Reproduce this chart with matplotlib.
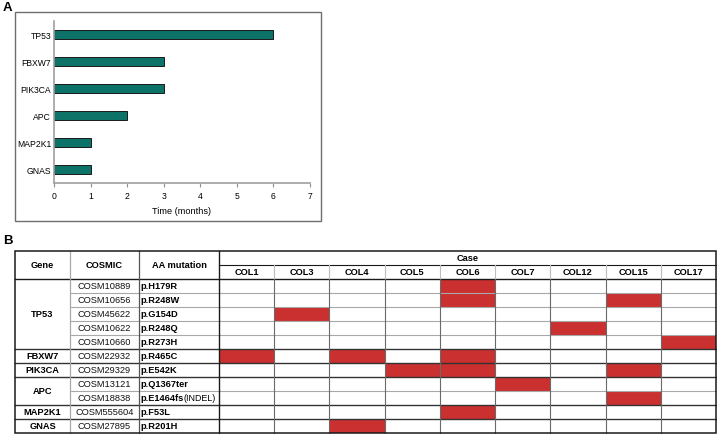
import matplotlib
matplotlib.use("Agg")
import matplotlib.pyplot as plt
from matplotlib.patches import Rectangle

plt.rcParams['font.family'] = ['Liberation Sans', 'DejaVu Sans']

# ---------------- data ----------------
genes_bar = ["TP53", "FBXW7", "PIK3CA", "APC", "MAP2K1", "GNAS"]
bar_values = [6, 3, 3, 2, 1, 1]
x_ticks = [0, 1, 2, 3, 4, 5, 6, 7]

cases = ["COL1", "COL3", "COL4", "COL5", "COL6", "COL7", "COL12", "COL15", "COL17"]
row_genes = ["TP53", "TP53", "TP53", "TP53", "TP53", "FBXW7", "PIK3CA", "APC", "APC", "MAP2K1", "GNAS"]
cosmic_ids = ["COSM10889", "COSM10656", "COSM45622", "COSM10622", "COSM10660",
              "COSM22932", "COSM29329", "COSM13121", "COSM18838", "COSM555604", "COSM27895"]
aa_mutations = ["p.H179R", "p.R248W", "p.G154D", "p.R248Q", "p.R273H",
                "p.R465C", "p.E542K", "p.Q1367ter", "p.E1464fs", "p.F53L", "p.R201H"]
aa_suffix = ["", "", "", "", "", "", "", "", "(INDEL)", "", ""]
# mutation presence per row (1 = detected) in case order
mutation_matrix = [
    [0, 0, 0, 0, 1, 0, 0, 0, 0],
    [0, 0, 0, 0, 1, 0, 0, 1, 0],
    [0, 1, 0, 0, 0, 0, 0, 0, 0],
    [0, 0, 0, 0, 0, 0, 1, 0, 0],
    [0, 0, 0, 0, 0, 0, 0, 0, 1],
    [1, 0, 1, 0, 1, 0, 0, 0, 0],
    [0, 0, 0, 1, 1, 0, 0, 1, 0],
    [0, 0, 0, 0, 0, 1, 0, 0, 0],
    [0, 0, 0, 0, 0, 0, 0, 1, 0],
    [0, 0, 0, 0, 1, 0, 0, 0, 0],
    [0, 0, 1, 0, 0, 0, 0, 0, 0],
]

# ---------------- figure ----------------
W, H = 717, 435
fig = plt.figure(figsize=(W / 100, H / 100), dpi=100)

ov = fig.add_axes([0, 0, 1, 1])
ov.set_xlim(0, W)
ov.set_ylim(H, 0)
ov.axis("off")

# panel A frame
ov.add_patch(Rectangle((15, 13), 306, 209, fill=False, edgecolor="#6e6e6e", lw=1.0))
ov.text(3, 8, "A", fontsize=9.5, fontweight="bold", va="center", ha="left")
ov.text(3, 241, "B", fontsize=9.5, fontweight="bold", va="center", ha="left")

# ---------------- bar chart ----------------
axL, axR, axT, axB = 54, 310, 22, 184
ax = fig.add_axes([axL / W, 1 - axB / H, (axR - axL) / W, (axB - axT) / H])
ypos = list(range(len(genes_bar)))[::-1]
ax.barh(ypos, bar_values, height=0.37, color="#0d7267", edgecolor="#1a1a1a", lw=0.7)
ax.set_xlim(0, 7)
ax.set_ylim(-0.5, len(genes_bar) - 0.5)
ax.set_xticks(x_ticks)
ax.set_xticklabels([str(t) for t in x_ticks], fontsize=6.2)
ax.set_yticks(ypos)
ax.set_yticklabels(genes_bar, fontsize=6.2)
ax.tick_params(axis="y", length=0, pad=2)
ax.tick_params(axis="x", length=3, width=0.8, color="#909090", pad=3)
for s in ["top", "right"]:
    ax.spines[s].set_visible(False)
for s in ["left", "bottom"]:
    ax.spines[s].set_color("#a0a0a0")
    ax.spines[s].set_linewidth(1.2)
ax.set_xlabel("Time (months)", fontsize=6.6, labelpad=4)
ax.patch.set_alpha(0)

# ---------------- table ----------------
x0 = 15
col_w = [55, 69, 80]
case_w = (716 - (x0 + sum(col_w))) / len(cases)
y_top = 252
hdr_h = 14
row_h = 14.0
n_rows = len(row_genes)

fixed_edges = [x0]
for w in col_w:
    fixed_edges.append(fixed_edges[-1] + w)
case_edges = [fixed_edges[-1] + i * case_w for i in range(len(cases) + 1)]
x_right = case_edges[-1]
y_data0 = y_top + 2 * hdr_h
row_edges = [y_data0 + i * row_h for i in range(n_rows + 1)]
y_bot = row_edges[-1]

red = "#c9302f"
for r, row in enumerate(mutation_matrix):
    for c, v in enumerate(row):
        if v:
            ov.add_patch(Rectangle((case_edges[c], row_edges[r]), case_w, row_h,
                                   facecolor=red, edgecolor="none", zorder=1))

gray = "#a8a8a8"
dark = "#1a1a1a"
fs = 6.7

group_end = [i for i in range(n_rows - 1) if row_genes[i] != row_genes[i + 1]]
for i in range(1, n_rows):
    is_group = (i - 1) in group_end
    xs = fixed_edges[0] if is_group else fixed_edges[1]
    ov.plot([xs, x_right], [row_edges[i]] * 2,
            color="#333333" if is_group else gray, lw=1.0 if is_group else 0.8, zorder=2)
ov.plot([case_edges[0], x_right], [y_top + hdr_h] * 2, color=dark, lw=0.8, zorder=2)
ov.plot([x0, x_right], [y_data0] * 2, color=dark, lw=1.0, zorder=2)

ov.plot([fixed_edges[1]] * 2, [y_top, y_bot], color=gray, lw=0.9, zorder=2)
ov.plot([fixed_edges[2]] * 2, [y_top, y_bot], color="#555555", lw=0.9, zorder=2)
ov.plot([fixed_edges[3]] * 2, [y_top, y_bot], color=dark, lw=1.0, zorder=2)
for e in case_edges[1:-1]:
    ov.plot([e, e], [y_top + hdr_h, y_data0], color="#bdbdbd", lw=0.8, zorder=2)
    ov.plot([e, e], [y_data0, y_bot], color="#6a6a6a", lw=0.8, zorder=2)

ov.add_patch(Rectangle((x0, y_top), x_right - x0, y_bot - y_top, fill=False,
                       edgecolor=dark, lw=1.1, zorder=3))

hmid = y_top + hdr_h
ov.text((fixed_edges[0] + fixed_edges[1]) / 2, hmid, "Gene", ha="center", va="center",
        fontsize=fs, fontweight="bold")
ov.text((fixed_edges[1] + fixed_edges[2]) / 2, hmid, "COSMIC", ha="center", va="center",
        fontsize=fs, fontweight="bold")
ov.text((fixed_edges[2] + fixed_edges[3]) / 2, hmid, "AA mutation", ha="center", va="center",
        fontsize=fs, fontweight="bold")
ov.text((case_edges[0] + x_right) / 2, y_top + hdr_h / 2, "Case", ha="center", va="center",
        fontsize=fs, fontweight="bold")
for c, name in enumerate(cases):
    ov.text((case_edges[c] + case_edges[c + 1]) / 2, y_top + 1.5 * hdr_h, name,
            ha="center", va="center", fontsize=fs, fontweight="bold")

start = 0
for i in range(n_rows):
    if i == n_rows - 1 or row_genes[i] != row_genes[i + 1]:
        ymid = (row_edges[start] + row_edges[i + 1]) / 2
        ov.text((fixed_edges[0] + fixed_edges[1]) / 2, ymid, row_genes[i], ha="center",
                va="center", fontsize=fs, fontweight="bold")
        start = i + 1

renderer = fig.canvas.get_renderer()
for r in range(n_rows):
    ym = (row_edges[r] + row_edges[r + 1]) / 2
    ov.text((fixed_edges[1] + fixed_edges[2]) / 2, ym, cosmic_ids[r], ha="center",
            va="center", fontsize=fs, color="#111111")
    t = ov.text(fixed_edges[2] + 1.5, ym, aa_mutations[r], ha="left", va="center",
                fontsize=fs, fontweight="bold")
    if aa_suffix[r]:
        bb = t.get_window_extent(renderer=renderer)
        xpix = bb.x1 / fig.dpi * 100
        ov.text(xpix + 0.2, ym, aa_suffix[r], ha="left", va="center", fontsize=fs - 0.3)

fig.savefig("out.png", dpi=100)
